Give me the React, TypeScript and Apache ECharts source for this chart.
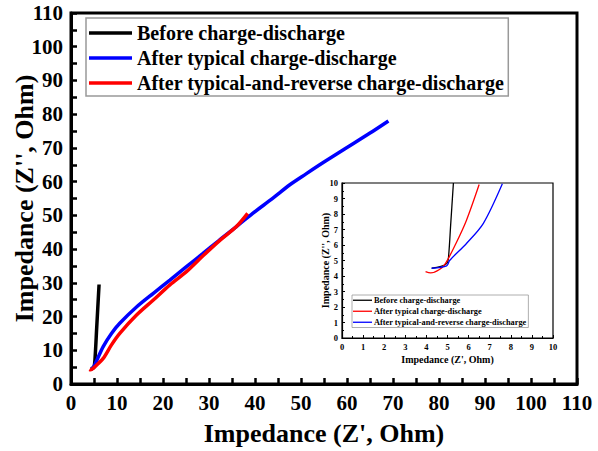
import React, { useEffect, useRef } from "react";
import * as echarts from "echarts";

// Main plot data [Z', Z'']
const beforeMain: number[][] = [
  [4.3, 4.5], [4.8, 4.7], [5.0, 5.0], [5.2, 7.0], [5.6, 17.0], [6.1, 29.5],
];
const typicalMain: number[][] = [
  [4.3, 4.5], [4.6, 4.6], [5.0, 5.2], [5.6, 7.0], [7.0, 11.1], [8.8, 15.0],
  [10.6, 18.0], [14.3, 22.9], [17.9, 26.9], [21.5, 30.8], [25.1, 34.8],
  [28.7, 38.7], [32.3, 42.7], [35.9, 46.6], [39.5, 50.6], [43.9, 55.1],
  [47.5, 59.0], [51.1, 62.3], [55.0, 65.8], [60.0, 70.1], [65.0, 74.4], [69.0, 78.0],
];
const reverseMain: number[][] = [
  [4.0, 4.3], [4.2, 4.2], [4.6, 4.4], [5.2, 5.1], [7.0, 7.6], [8.8, 11.6],
  [10.6, 15.0], [14.3, 20.5], [17.9, 24.9], [21.5, 29.4], [25.1, 33.3],
  [28.7, 38.0], [32.3, 42.5], [35.9, 46.6], [38.4, 50.6],
];

// Inset data (0-10 zoom)
const beforeInset: number[][] = [
  [4.25, 4.5], [4.65, 4.6], [4.96, 4.8], [5.04, 5.1], [5.15, 7.3], [5.28, 10.0],
];
const typicalInset: number[][] = [
  [3.96, 4.28], [4.2, 4.2], [4.6, 4.4], [4.9, 4.8], [5.4, 6.1], [5.9, 7.6], [6.5, 9.9],
];
const reverseInset: number[][] = [
  [4.25, 4.5], [4.96, 4.65], [5.1, 5.0], [5.9, 6.1], [6.7, 7.4], [7.6, 9.95],
];

const legendNames: Record<string, string> = {
  before: "Before charge-discharge",
  typical: "After typical charge-discharge",
  reverse: "After typical-and-reverse charge-discharge",
  inBefore: "Before charge-discharge",
  inTypical: "After typical charge-discharge",
  inReverse: "After typical-and-reverse charge-discharge",
};

const FONT = "Liberation Serif";

export default function App() {
  const ref = useRef<HTMLDivElement>(null);
  useEffect(() => {
    if (!ref.current) return;
    const chart = echarts.init(ref.current, undefined, { renderer: "svg" });
    const mainAxisCommon = {
      min: 0,
      max: 110,
      interval: 10,
      axisLine: { onZero: false, lineStyle: { color: "#000", width: 3 } },
      axisTick: { inside: true, length: 6, lineStyle: { width: 2.5, color: "#000" } },
      minorTick: { show: true, splitNumber: 2, length: 6, lineStyle: { width: 2.5, color: "#000" } },
      splitLine: { show: false },
      axisLabel: { color: "#000", fontFamily: FONT, fontWeight: "bold", fontSize: 21 },
      nameTextStyle: { color: "#000", fontFamily: FONT, fontWeight: "bold", fontSize: 26 },
      nameLocation: "middle",
      nameMoveOverlap: false,
    };
    const insetAxisCommon = {
      min: 0,
      max: 10,
      interval: 1,
      axisLine: { onZero: false, lineStyle: { color: "#000", width: 1.2 } },
      axisTick: { inside: true, length: 3, lineStyle: { width: 1, color: "#000" } },
      minorTick: { show: true, splitNumber: 2, length: 2, lineStyle: { width: 1, color: "#000" } },
      splitLine: { show: false },
      axisLabel: { color: "#000", fontFamily: FONT, fontWeight: "bold", fontSize: 8.5, margin: 4 },
      nameTextStyle: { color: "#000", fontFamily: FONT, fontWeight: "bold", fontSize: 10 },
      nameLocation: "middle",
      nameMoveOverlap: false,
    };
    const line = (name: string, data: number[][], color: string, idx: number, width: number) => ({
      name,
      type: "line",
      data,
      xAxisIndex: idx,
      yAxisIndex: idx,
      showSymbol: false,
      symbol: "none",
      smooth: 0.3,
      lineStyle: { color, width },
      itemStyle: { color },
      z: idx === 1 ? 10 : 2,
    });
    chart.setOption({
      animation: false,
      backgroundColor: "#fff",
      grid: [
        { left: 71, right: 21, top: 13, bottom: 67, show: true, borderColor: "#000", borderWidth: 3, backgroundColor: "transparent", containLabel: false, outerBoundsMode: "none" },
        { left: 342, right: 45, top: 183, bottom: 113, show: true, borderColor: "#000", borderWidth: 1.2, backgroundColor: "#fff", z: 5, containLabel: false, outerBoundsMode: "none" },
      ],
      xAxis: [
        { ...mainAxisCommon, type: "value", gridIndex: 0, name: "Impedance (Z', Ohm)", nameGap: 36, axisLabel: { ...mainAxisCommon.axisLabel, margin: 8 } },
        { ...insetAxisCommon, type: "value", gridIndex: 1, name: "Impedance (Z', Ohm)", nameGap: 16, z: 6 },
      ],
      yAxis: [
        { ...mainAxisCommon, type: "value", gridIndex: 0, name: "Impedance (Z'', Ohm)", nameGap: 34, axisLabel: { ...mainAxisCommon.axisLabel, margin: 8 } },
        { ...insetAxisCommon, type: "value", gridIndex: 1, name: "Impedance (Z'', Ohm)", nameGap: 12, z: 6 },
      ],
      legend: [
        {
          data: ["before", "typical", "reverse"],
          formatter: (n: string) => legendNames[n],
          orient: "vertical",
          left: 86,
          top: 18,
          icon: "rect",
          itemWidth: 43,
          itemHeight: 3.5,
          itemGap: 5,
          padding: [5, 4, 3, 3],
          borderColor: "#999",
          borderWidth: 1.5,
          backgroundColor: "#fff",
          textStyle: { color: "#000", fontFamily: FONT, fontWeight: "bold", fontSize: 20, lineHeight: 19.5 },
        },
        {
          data: ["inBefore", "inTypical", "inReverse"],
          formatter: (n: string) => legendNames[n],
          orient: "vertical",
          left: 352,
          top: 295,
          icon: "rect",
          itemWidth: 19,
          itemHeight: 1.3,
          itemGap: 2.5,
          padding: [1, 2, 1, 1],
          borderColor: "#999",
          borderWidth: 0.8,
          backgroundColor: "#fff",
          z: 12,
          textStyle: { color: "#000", fontFamily: FONT, fontWeight: "bold", fontSize: 8.3, lineHeight: 8.5, padding: [0, 0, 0, -3] },
        },
      ],
      series: [
        line("before", beforeMain, "#000000", 0, 3.5),
        line("typical", typicalMain, "#0000ff", 0, 3.5),
        line("reverse", reverseMain, "#ff0000", 0, 3.5),
        line("inBefore", beforeInset, "#000000", 1, 1.3),
        line("inTypical", typicalInset, "#ff0000", 1, 1.3),
        line("inReverse", reverseInset, "#0000ff", 1, 1.3),
      ],
    });
    return () => chart.dispose();
  }, []);
  return <div ref={ref} style={{ width: 598, height: 451, position: "absolute", left: 0, top: 0 }} />;
}
